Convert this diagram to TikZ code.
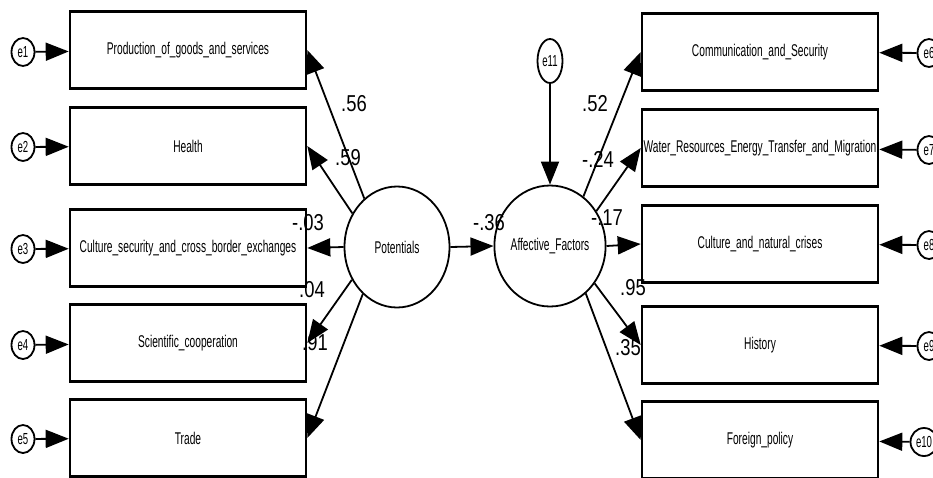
\documentclass[tikz,border=0pt]{standalone}
\usepackage{fontspec}
\setmainfont{Liberation Sans}
\newfontfamily\labfont[FakeStretch=0.6]{Liberation Sans}
\newfontfamily\coeffont[FakeStretch=0.8]{Liberation Sans}
\usetikzlibrary{shapes.geometric,arrows.meta}

\begin{document}
\begin{tikzpicture}[x=1pt,y=-1pt,
  box/.style={draw,line width=2.6pt,minimum width=236pt,minimum height=77pt,inner sep=0pt,font=\labfont\fontsize{17}{20}\selectfont},
  latent/.style={draw,ellipse,line width=1.8pt,minimum width=105pt,minimum height=121pt,inner sep=0pt,font=\labfont\fontsize{17}{20}\selectfont},
  err/.style={draw,ellipse,line width=1.8pt,fill=white,minimum width=23pt,minimum height=28pt,inner sep=0pt,font=\labfont\fontsize{16}{19}\selectfont},
  path/.style={line width=1.8pt,-{Triangle[length=23pt,width=18pt]}},
  coef/.style={inner sep=0pt,font=\coeffont\fontsize{23}{26}\selectfont}]
\clip (0,0) rectangle (933,477);
\fill[white] (0,0) rectangle (933,477);
% latent variables
\node[latent] (pot) at (397,247){Potentials};
\node[latent] (aff) at (550,246){Affective\_Factors};
\node[err,minimum width=25pt,minimum height=44pt] (e11) at (550,61){e11};
% observed, left side
\node[box] (prod) at (188,50){Production\_of\_goods\_and\_services};
\node[box] (health) at (188,146){Health};
\node[box] (culture) at (188,248){Culture\_security\_and\_cross\_border\_exchanges};
\node[box] (sci) at (188,343){Scientific\_cooperation};
\node[box] (trade) at (188,438){Trade};
% observed, right side
\node[box] (comm) at (760,52){Communication\_and\_Security};
\node[box] (water) at (760,148){Water\_Resources\_Energy\_Transfer\_and\_Migration};
\node[box] (crises) at (760,244){Culture\_and\_natural\_crises};
\node[box] (history) at (760,345){History};
\node[box] (foreign) at (760,440){Foreign\_policy};
% errors
\node[err] (e1) at (23,52){e1};
\node[err] (e2) at (23,147){e2};
\node[err] (e3) at (23,249){e3};
\node[err] (e4) at (23,345){e4};
\node[err] (e5) at (23,439){e5};
\node[err] (e6) at (929,53){e6};
\node[err] (e7) at (929,150){e7};
\node[err] (e8) at (929,245){e8};
\node[err] (e9) at (929,346){e9};
\node[err,minimum width=27pt] (e10) at (924,442){e10};
% paths
\draw [path](pot.124) -- (prod.east);
\draw [path](pot.143) -- (health.east);
\draw [path](pot.west) -- (culture.east);
\draw [path](pot.216) -- (sci.east);
\draw [path](pot.234) -- (trade.east);
\draw [path](pot.east) -- (aff.west);
\draw [path](e11.south) -- (aff.north);
\draw [path](aff.56) -- (comm.west);
\draw [path](aff.37) -- (water.west);
\draw [path](aff.east) -- (crises.west);
\draw [path](aff.320) -- (history.west);
\draw [path](aff.307) -- (foreign.west);
\draw [path](e1) -- (prod);
\draw [path](e2) -- (health);
\draw [path](e3) -- (culture);
\draw [path](e4) -- (sci);
\draw [path](e5) -- (trade);
\draw [path](e6) -- (comm);
\draw [path](e7) -- (water);
\draw [path](e8) -- (crises);
\draw [path](e9) -- (history);
\draw [path](e10) -- (foreign);
% estimates
\node[coef] (c1) at (354,104){.56};
\node[coef] (c2) at (348,158){.59};
\node[coef] (c3) at (308,223){-.03};
\node[coef] (c4) at (312,290){.04};
\node[coef] (c5) at (315,343){.91};
\node[coef] (c6) at (489,223){-.36};
\node[coef] (c7) at (595,104){.52};
\node[coef] (c8) at (598,159){-.24};
\node[coef] (c9) at (607,218){-.17};
\node[coef] (c10) at (633,288){.95};
\node[coef] (c11) at (628,348){.35};
\end{tikzpicture}
\end{document}
